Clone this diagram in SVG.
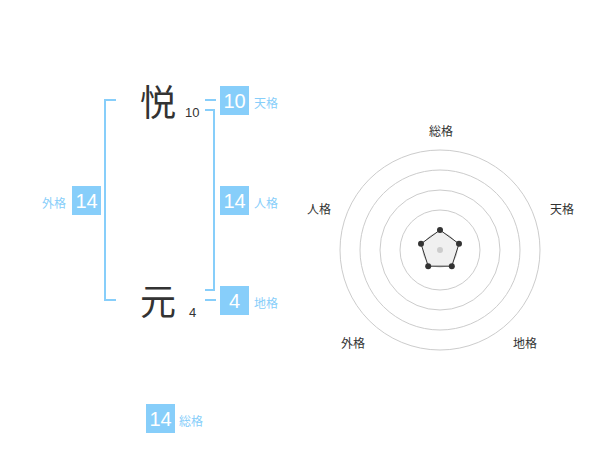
<svg xmlns="http://www.w3.org/2000/svg" width="600" height="470" viewBox="0 0 600 470">
<style>
.kanji{font-family:"Noto Sans CJK JP","Noto Sans CJK SC",sans-serif;font-size:36px;fill:#333;text-anchor:middle}
.stroke{font-family:"Liberation Sans",Arial,sans-serif;font-size:13px;fill:#333}
.box{fill:#87cefa}
.num{font-family:"Liberation Sans",Arial,sans-serif;font-size:20px;fill:#fff;text-anchor:middle}
.lbl{font-family:"Noto Sans CJK JP","Noto Sans CJK SC",sans-serif;font-size:12px;fill:#87cefa;dominant-baseline:central}
.br{fill:none;stroke:#87cefa;stroke-width:2}
.ring{fill:none;stroke:#ccc;stroke-width:1}
.rl{font-family:"Noto Sans CJK JP","Noto Sans CJK SC",sans-serif;font-size:12px;fill:#333;text-anchor:middle;dominant-baseline:central}
</style>
<rect width="600" height="470" fill="#fff"/>
<g id="connectors">
<path class="br" d="M116,100 H105 V300 H116"/>
<path class="br" d="M205,110 H214 V290 H205"/>
<path class="br" d="M205,100 H216"/>
<path class="br" d="M205,300 H216"/>
</g>
<g id="char1"><text class="kanji" x="158" y="116">悦</text><text class="stroke" x="185" y="117">10</text></g>
<g id="char2"><text class="kanji" x="158" y="315">元</text><text class="stroke" x="189" y="317">4</text></g>
<g id="tenkaku"><rect class="box" x="220" y="86" width="29" height="29"/><text class="num" x="234.5" y="108">10</text><text class="lbl" x="254" y="102">天格</text></g>
<g id="jinkaku"><rect class="box" x="220" y="186" width="29" height="29"/><text class="num" x="234.5" y="208">14</text><text class="lbl" x="254" y="202">人格</text></g>
<g id="chikaku"><rect class="box" x="220" y="286" width="29" height="29"/><text class="num" x="234.5" y="308">4</text><text class="lbl" x="254" y="302">地格</text></g>
<g id="gaikaku"><rect class="box" x="72" y="186" width="29" height="29"/><text class="num" x="86.5" y="208">14</text><text class="lbl" x="66" y="202" text-anchor="end">外格</text></g>
<g id="soukaku"><rect class="box" x="146" y="404" width="29" height="29"/><text class="num" x="160.5" y="426">14</text><text class="lbl" x="179" y="420">総格</text></g>
<g id="radar">
<circle class="ring" cx="440" cy="250" r="100"/>
<circle class="ring" cx="440" cy="250" r="80"/>
<circle class="ring" cx="440" cy="250" r="60"/>
<circle class="ring" cx="440" cy="250" r="40"/>
<circle class="ring" cx="440" cy="250" r="17"/>
<polygon points="440,230 459,243.8 451.8,266.2 428.2,266.2 421,243.8" fill="#eee" fill-opacity="0.9" stroke="#333" stroke-width="1"/>
<circle cx="440" cy="250" r="3" fill="#ccc"/>
<g fill="#333">
<circle cx="440" cy="230" r="3"/><circle cx="459" cy="243.8" r="3"/><circle cx="451.8" cy="266.2" r="3"/><circle cx="428.2" cy="266.2" r="3"/><circle cx="421" cy="243.8" r="3"/>
</g>
<text class="rl" x="441" y="130">総格</text>
<text class="rl" x="562" y="208">天格</text>
<text class="rl" x="319" y="208">人格</text>
<text class="rl" x="353" y="342">外格</text>
<text class="rl" x="525" y="342">地格</text>
</g>
</svg>
